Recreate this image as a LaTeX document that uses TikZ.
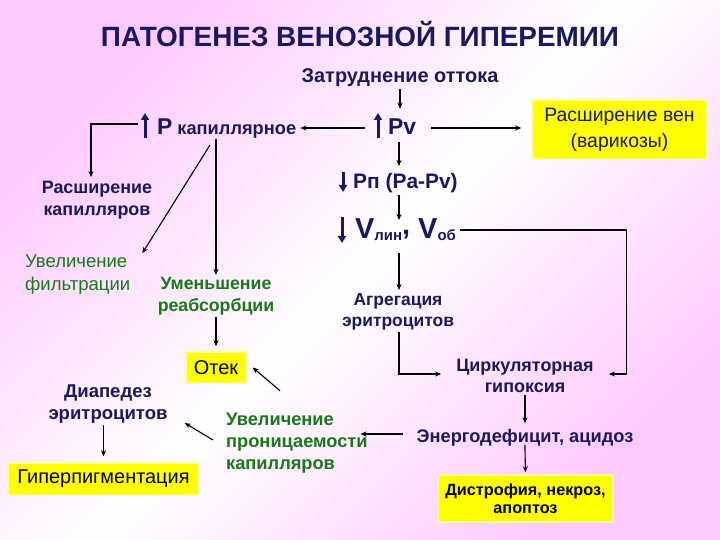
\documentclass[tikz,border=0pt]{standalone}
\usepackage{fontspec}
\setmainfont{Liberation Sans}
\usetikzlibrary{arrows.meta,calc}
\definecolor{navy}{RGB}{25,25,95}
\definecolor{grn}{RGB}{25,120,25}
\definecolor{pinkbg}{RGB}{255,202,255}
\definecolor{ybox}{RGB}{255,255,0}
\definecolor{yglow}{RGB}{255,255,160}
\begin{document}
\begin{tikzpicture}[x=1bp,y=-1bp,
 nb/.style={text=navy,font=\bfseries\fontsize{18}{21.5}\selectfont,align=center,inner sep=2bp},
 gb/.style={text=grn,font=\bfseries\fontsize{17.8}{22}\selectfont,align=left,inner sep=2bp},
 gr/.style={text=grn,font=\fontsize{18.6}{23}\selectfont,align=left,inner sep=2bp},
 yb/.style={fill=ybox,draw=yglow,line width=1.5bp,inner sep=0pt,align=center},
 arr/.style={draw=black,line width=1.1bp,-{Stealth[length=6bp,width=5bp]}},
 big/.style={draw=navy,line width=3bp,-{Triangle[length=7bp,width=8bp]}}
]
\useasboundingbox (0,0) rectangle (720,540);
\shade[top color=pinkbg,bottom color=pinkbg,middle color=white,shading angle=45] (0,0) rectangle (720,540);

\node[text=navy,font=\bfseries\fontsize{28}{30}\selectfont] (title) at (360,34) {ПАТОГЕНЕЗ ВЕНОЗНОЙ ГИПЕРЕМИИ};
\node[nb,font=\bfseries\fontsize{20}{22}\selectfont] (zatr) at (400,77.5) {Затруднение оттока};
\node[nb,font=\bfseries\fontsize{23}{26}\selectfont,anchor=base west,inner sep=0pt] (pv) at (388,135) {Pv};
\node[nb,anchor=base west,inner sep=0pt] (pk) at (157,135) {{\fontsize{23}{26}\selectfont P} {\fontsize{18.3}{20}\selectfont капиллярное}};
\node[yb,minimum width=175bp,minimum height=59bp,text=navy,font=\fontsize{19.5}{26}\selectfont] (ven) at (619.5,129.5) {\raisebox{-2bp}{Расширение вен}\\\raisebox{-2bp}{(варикозы)}};
\node[nb,font=\bfseries\fontsize{21}{22}\selectfont,anchor=base west,inner sep=0pt] (pp) at (353,189) {Pп (Pa-Pv)};
\node[nb,anchor=base west,inner sep=0pt] (vl) at (355,239) {{\fontsize{29}{30}\selectfont V}{\fontsize{15}{16}\selectfont\raisebox{-2bp}{лин}}{\fontsize{29}{30}\selectfont\raisebox{4bp}{,} V}{\fontsize{15}{16}\selectfont\raisebox{-2bp}{об}}};
\node[nb,font=\bfseries\fontsize{17.5}{21}\selectfont] (agr) at (398,312) {Агрегация\\эритроцитов};
\node[nb] (circ) at (525,376) {Циркуляторная\\гипоксия};
\node[nb,font=\bfseries\fontsize{18.3}{21}\selectfont] (energ) at (525,438) {Энергодефицит, ацидоз};
\node[yb,minimum width=175bp,minimum height=47bp,font=\bfseries\fontsize{16.3}{18.5}\selectfont] (dystr) at (525.5,498.5) {Дистрофия, некроз,\\апоптоз};
\node[nb] (rascap) at (97,200) {Расширение\\капилляров};
\node[gr,anchor=west] (filtr) at (23,275) {Увеличение\\фильтрации};
\node[gb,align=center] (reabs) at (216,296) {Уменьшение\\реабсорбции};
\node[yb,minimum width=60bp,minimum height=31bp,font=\fontsize{20}{22}\selectfont] (otek) at (216,367.5) {Отек};
\node[nb,font=\bfseries\fontsize{18.6}{22}\selectfont] (diap) at (108,404) {Диапедез\\эритроцитов};
\node[yb,minimum width=191bp,minimum height=32bp,font=\fontsize{20}{22}\selectfont] (hyper) at (103.5,479) {Гиперпигментация};
\node[gb,anchor=west,font=\bfseries\fontsize{18.3}{22}\selectfont] (perm) at (224,443) {Увеличение\\проницаемости\\капилляров};

% thick glyph arrows
\draw[big] ($(pk.base west)+(-12,3)$) -- ++(0,-25);
\draw[big] ($(pv.base west)+(-10,3)$) -- ++(0,-25);
\draw[big] ($(pp.base west)+(-10,-17)$) -- ++(0,20);
\draw[big] ($(vl.base west)+(-13,-22)$) -- ++(0,26);

% connectors
\draw[arr] (zatr.south) -- ++(0,20);
\draw[arr] ($(pv.base west)+(-23,-7)$) -- ($(pk.base east)+(4,-7)$);
\draw[arr] ($(pv.base east)+(15,-7)$) -- ($(ven.west)+(-10,-1.5)$);
\draw[arr] ($(pv.base west)+(11,7)$) -- ++(0,24);
\draw[arr] ($(pp.base west)+(46,6)$) -- ++(0,25);
\draw[arr] ($(vl.base west)+(44,14)$) -- ++(0,37);
\draw[arr] ($(vl.base east)+(4,-9)$) -| ($(circ.east)+(31,-2)$) -- ($(circ.east)+(13,-2)$);
\draw[arr] ($(agr.south)+(1,0)$) |- ($(circ.west)+(-13,-2)$);
\draw[arr,shorten >=4bp] (circ.south) -- (energ.north);
\draw[arr,shorten <=-4bp,shorten >=2bp] (energ.south) -- (dystr.north);
\draw[arr] ($(energ.west)+(-12,-4)$) -- ++(-42,0);
\draw[arr] ($(pk.base west)+(-19,-11)$) -| ($(rascap.north)+(-6,-2)$);
\draw[arr] ($(pk.base west)+(53,10)$) -- ($(filtr.north east)+(10,0)$);
\draw[arr] (reabs.north |- pk.south) -- (reabs.north);
\draw[arr,shorten >=5bp] (reabs.south) -- (otek.north);
\draw[arr] ($(perm.north west)+(56,-20)$) -- ($(otek.east)+(6,0)$);
\draw[arr] ($(perm.west)+(-11,-3)$) -- ($(diap.east)+(15,19)$);
\draw[arr,shorten >=6bp] (hyper.north |- diap.south) -- (hyper.north);
\end{tikzpicture}
\end{document}
